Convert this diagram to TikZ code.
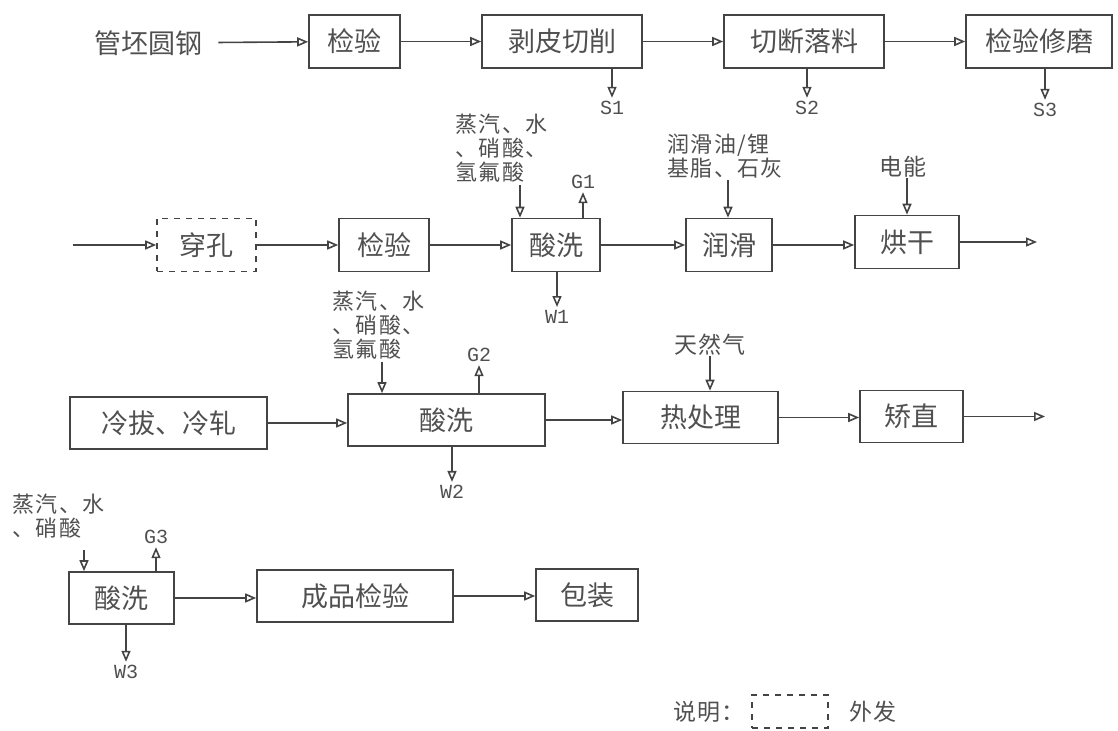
\documentclass[tikz,border=0pt]{standalone}
\usepackage{fontspec}
\usepackage{tikz}
\usetikzlibrary{arrows.meta}
\setmainfont{Noto Sans CJK SC}
\newfontfamily\notefont[LetterSpace=6]{Noto Sans CJK SC}
\newfontfamily\codefont{Liberation Mono}
\definecolor{FlowLine}{HTML}{444444}
\definecolor{FlowText}{HTML}{505050}

\begin{document}
\begin{tikzpicture}[
    x=0.5pt, y=-0.5pt,
    every node/.style={text=FlowText, inner sep=0pt},
    box/.style={draw=FlowLine, line width=0.8pt, minimum height=26.5pt, font=\fontsize{13.5}{15}\selectfont},
    outbox/.style={box, dashed},
    note/.style={font=\notefont\fontsize{11}{12}\selectfont, align=left, anchor=north west},
    tag/.style={font=\notefont\fontsize{11.5}{13}\selectfont},
    code/.style={font=\codefont\fontsize{10}{11}\selectfont, inner sep=1.5pt},
    arrow/.style={draw=FlowLine, line width=0.8pt, -{Triangle[open, length=5.5pt, width=4.5pt]}}
  ]
    \useasboundingbox (0,0) rectangle (1118,731);

    % row 1
    \node[font=\fontsize{13.5}{15}\selectfont, inner xsep=8pt] (raw) at (148,43) {管坯圆钢};
    \node[box, minimum width=45.5pt] (insp1) at (354.5,41.5) {检验};
    \node[box, minimum width=80pt] (peel) at (562,41.5) {剥皮切削};
    \node[box, minimum width=80pt] (cut) at (804,41.5) {切断落料};
    \node[box, minimum width=73pt] (grind) at (1039,41.5) {检验修磨};
    \node[code] (s1) at (612,108) {S1};
    \node[code] (s2) at (807,108) {S2};
    \node[code] (s3) at (1045,110) {S3};

    \draw[arrow] (raw) -- (insp1);
    \draw[arrow] (insp1) -- (peel);
    \draw[arrow] (peel) -- (cut);
    \draw[arrow] (cut) -- (grind);
    \draw[arrow] (peel.south -| s1) -- (s1.north);
    \draw[arrow] (cut.south -| s2) -- (s2.north);
    \draw[arrow] (grind.south -| s3) -- (s3.north);

    % row 2
    \coordinate (in2) at (73,245);
    \node[outbox, minimum width=49.5pt] (pierce) at (206.5,245) {穿孔};
    \node[box, minimum width=45pt] (insp2) at (384,245) {检验};
    \node[box, minimum width=44pt] (pick1) at (556,245) {酸洗};
    \node[box, minimum width=43pt] (lube) at (729,245) {润滑};
    \node[box, minimum width=52pt] (dry) at (907,242) {烘干};
    \coordinate (out2) at (1037,242);
    \node[note] (feed1) at (455,114) {蒸汽、水\\、硝酸、\\氢氟酸};
    \coordinate (f1) at (520,185);
    \node[code] (g1) at (583,182) {G1};
    \node[code] (w1) at (557,317) {W1};
    \node[note] (feed2) at (667,134) {润滑油/锂\\基脂、石灰};
    \coordinate (f2) at (728,180);
    \node[tag] (power) at (903,167) {电能};

    \draw[arrow] (in2) -- (pierce);
    \draw[arrow] (pierce) -- (insp2);
    \draw[arrow] (insp2) -- (pick1);
    \draw[arrow] (pick1) -- (lube);
    \draw[arrow] (lube) -- (dry.west |- lube);
    \draw[arrow] (dry) -- (out2);
    \draw[arrow] (f1) -- (f1 |- pick1.north);
    \draw[arrow] (pick1.north -| g1) -- (g1.south);
    \draw[arrow] (pick1.south -| w1) -- (w1.north);
    \draw[arrow] (f2) -- (f2 |- lube.north);
    \draw[arrow] (power.south -| dry.north) -- (dry.north);

    % row 3
    \node[box, minimum width=98.5pt, minimum height=26pt] (cold) at (168.5,423) {冷拔、冷轧};
    \node[box, minimum width=98.5pt, minimum height=26pt] (pick2) at (446.5,420) {酸洗};
    \node[box, minimum width=77.5pt, minimum height=26pt] (heat) at (700.5,417.5) {热处理};
    \node[box, minimum width=51.5pt, minimum height=26pt] (straight) at (911.5,416.5) {矫直};
    \coordinate (out3) at (1045,416.5);
    \node[note] (feed3) at (332,291) {蒸汽、水\\、硝酸、\\氢氟酸};
    \coordinate (f3) at (382,362);
    \node[code] (g2) at (479,355) {G2};
    \node[code] (w2) at (452,492) {W2};
    \node[tag] (gas) at (710,345) {天然气};

    \draw[arrow] (cold) -- (cold -| pick2.west);
    \draw[arrow] (pick2) -- (pick2 -| heat.west);
    \draw[arrow] (heat) -- (heat -| straight.west);
    \draw[arrow] (straight) -- (out3);
    \draw[arrow] (f3) -- (f3 |- pick2.north);
    \draw[arrow] (pick2.north -| g2) -- (g2.south);
    \draw[arrow] (pick2.south -| w2) -- (w2.north);
    \draw[arrow] (gas) -- (gas |- heat.north);

    % row 4
    \node[box, minimum width=52.5pt, minimum height=26pt] (pick3) at (121.5,598) {酸洗};
    \node[box, minimum width=98pt, minimum height=26pt] (final) at (355,596) {成品检验};
    \node[box, minimum width=51pt, minimum height=26pt] (pack) at (587,595) {包装};
    \node[note] (feed4) at (12,494) {蒸汽、水\\、硝酸};
    \coordinate (f4) at (84,550);
    \node[code] (g3) at (156,537) {G3};
    \node[code] (w3) at (126,672) {W3};

    \draw[arrow] (pick3) -- (pick3 -| final.west);
    \draw[arrow] (final) -- (final -| pack.west);
    \draw[arrow] (f4) -- (f4 |- pick3.north);
    \draw[arrow] (pick3.north -| g3) -- (g3.south);
    \draw[arrow] (pick3.south -| w3) -- (w3.north);

    % legend
    \node[tag] (keylabel) at (709,712) {说明：};
    \node[outbox, minimum width=38pt, minimum height=16.5pt] (keybox) at (790,711.5) {};
    \node[tag] (keytext) at (873,712) {外发};
  \end{tikzpicture}
\end{document}
